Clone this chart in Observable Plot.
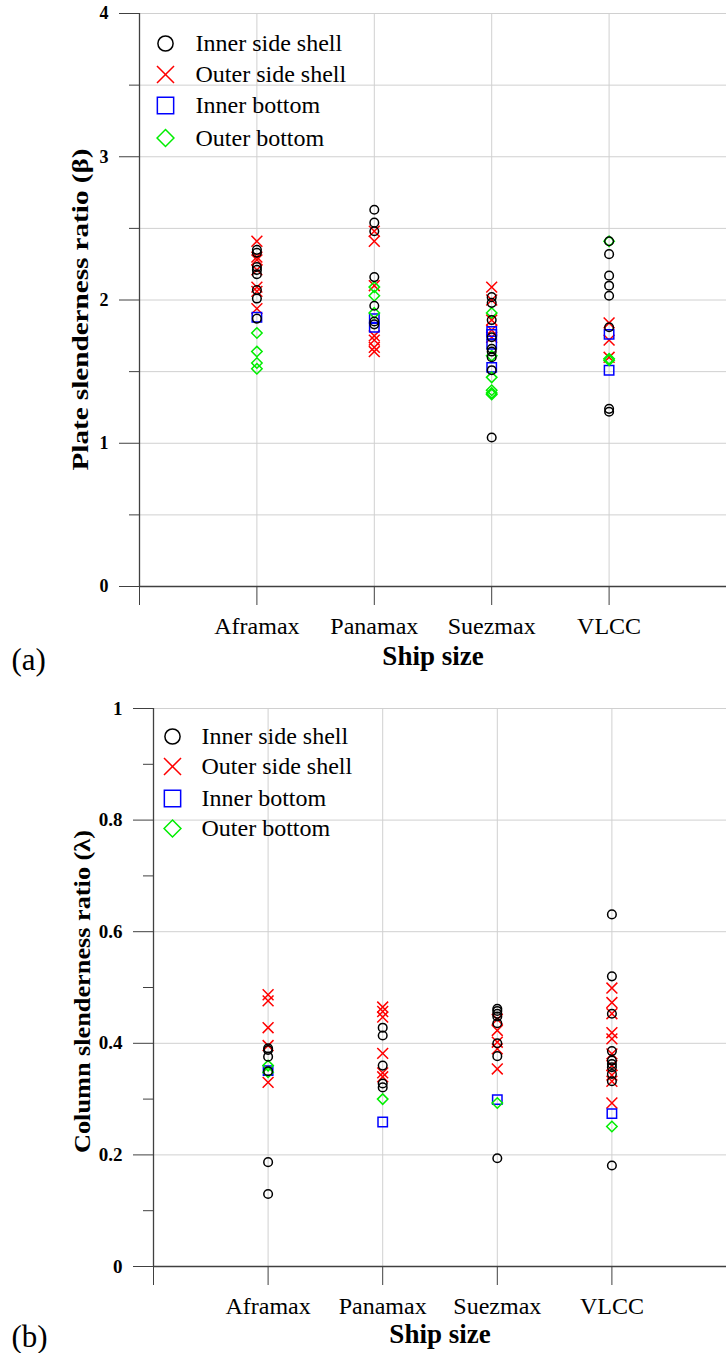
<!DOCTYPE html>
<html><head><meta charset="utf-8">
<script src="https://cdn.jsdelivr.net/npm/d3@7"></script>
<script src="https://cdn.jsdelivr.net/npm/@observablehq/plot@0.6"></script>
<style>
body{margin:0;background:#fff;}
#wrap{width:726px;}
#wrap svg{display:block;overflow:visible;font-family:"Liberation Serif","Times New Roman",serif !important;}
#wrap svg text{font-family:"Liberation Serif","Times New Roman",serif !important;}
</style></head><body><div id="wrap"></div>
<script>
const ships = ["Aframax", "Panamax", "Suezmax", "VLCC"];
const seriesNames = ["Inner side shell", "Outer side shell", "Inner bottom", "Outer bottom"];
const seriesColors = ["#000000", "#ff0000", "#0000ff", "#00ee00"];
const seriesSymbols = ["circle", "times", "square", "diamond2"];

// (a) Plate slenderness ratio (beta), one inner list per ship
const betaInnerSide = [
  [2.35, 2.33, 2.23, 2.21, 2.18, 2.07, 2.01, 1.87],
  [2.63, 2.54, 2.48, 2.16, 1.96, 1.85, 1.83],
  [2.02, 1.98, 1.86, 1.74, 1.66, 1.64, 1.60, 1.51, 1.04],
  [2.41, 2.32, 2.17, 2.10, 2.03, 1.81, 1.24, 1.22]
];
const betaOuterSide = [
  [2.41, 2.30, 2.28, 2.21, 2.09, 2.06, 1.94],
  [2.48, 2.41, 2.10, 1.75, 1.72, 1.67, 1.64],
  [2.09, 2.00, 1.86, 1.79, 1.74],
  [1.84, 1.72, 1.60]
];
const betaInnerBottom = [[1.88], [1.87, 1.81], [1.78, 1.76, 1.69, 1.53], [1.76, 1.51]];
const betaOuterBottom = [[1.77, 1.64, 1.56, 1.52], [2.09, 2.03, 1.91], [1.91, 1.61, 1.46, 1.37, 1.35, 1.34], [2.41, 1.59, 1.58]];

// (b) Column slenderness ratio (lambda)
const lambdaInnerSide = [
  [0.391, 0.388, 0.376, 0.350, 0.187, 0.130],
  [0.428, 0.414, 0.360, 0.328, 0.321],
  [0.462, 0.458, 0.453, 0.448, 0.436, 0.400, 0.377, 0.194],
  [0.631, 0.520, 0.453, 0.386, 0.369, 0.363, 0.357, 0.345, 0.332, 0.181]
];
const lambdaOuterSide = [
  [0.487, 0.476, 0.428, 0.396, 0.330],
  [0.465, 0.457, 0.447, 0.382, 0.347, 0.340],
  [0.443, 0.423, 0.402, 0.390, 0.354],
  [0.499, 0.473, 0.453, 0.419, 0.408, 0.381, 0.360, 0.343, 0.332, 0.293]
];
const lambdaInnerBottom = [[0.351], [0.259], [0.299], [0.274]];
const lambdaOuterBottom = [[0.360, 0.348], [0.300], [0.293], [0.251]];

const betaTicks = [0, 1, 2, 3, 4];
const betaMinorTicks = [0.5, 1.5, 2.5, 3.5];
const betaGrid = [0.5, 1, 1.5, 2, 2.5, 3, 3.5, 4];
const lambdaTicks = [0, 0.2, 0.4, 0.6, 0.8, 1];
const lambdaMinorTicks = [0.1, 0.3, 0.5, 0.7, 0.9];
const lambdaGrid = [0.2, 0.4, 0.6, 0.8, 1];

const FONT = "Liberation Serif, Times New Roman, serif";

function rows(seriesArrays) {
  const out = [];
  seriesArrays.forEach((arr, si) => arr.forEach((vals, ci) => vals.forEach(v => out.push({si, series: seriesNames[si], ship: ships[ci], x: ci + 1, v}))));
  return out;
}

function makeChart(o) {
  const data = rows(o.series);
  const dotR = [4.3, 5, 5.3, 4.7];
  const legR = [7.6, 7.8, 9.2, 7.6];
  const order = [1, 2, 3, 0];
  const axisColor = "#404040";
  const svg = Plot.plot({
    width: 726, height: o.height,
    marginTop: o.marginTop, marginRight: 0, marginBottom: o.marginBottom, marginLeft: o.marginLeft,
    style: {fontFamily: FONT, color: "#000", background: "#fff", overflow: "visible"},
    x: {type: "linear", domain: [0, 5], label: null},
    y: {domain: o.yDomain, label: null},
    marks: [
      Plot.gridY(o.grid, {stroke: "#d0d0d0", strokeOpacity: 1, strokeWidth: 1}),
      Plot.gridX([1, 2, 3, 4, 5], {stroke: "#d0d0d0", strokeOpacity: 1, strokeWidth: 1}),
      Plot.ruleX([0], {stroke: axisColor, strokeWidth: 1.3}),
      Plot.ruleY([0], {stroke: axisColor, strokeWidth: 1.3}),
      Plot.axisY(o.ticks, {tickSize: 20, tickPadding: 11, tickFormat: o.fmt, fontSize: o.tickFont, fontWeight: "bold", fontFamily: FONT, stroke: axisColor, fill: "#000", label: null}),
      Plot.axisY(o.minor, {tickSize: 10, tickFormat: () => "", stroke: axisColor, label: null}),
      Plot.axisX([0, 1, 2, 3, 4], {tickSize: 19, tickFormat: () => "", stroke: axisColor, label: null}),
      Plot.axisX([1, 2, 3, 4], {tickSize: 0, tickPadding: 30, tickFormat: i => ships[i - 1], fontSize: 24, fontFamily: FONT, fill: "#000", label: null}),
      ...order.map(s => Plot.dot(data.filter(d => d.si === s), {
        x: "x", y: "v", symbol: seriesSymbols[s], stroke: seriesColors[s], fill: "none", r: dotR[s], strokeWidth: 1.5
      })),
      ...seriesNames.flatMap((name, i) => [
        Plot.dot([name], {frameAnchor: "top-left", dx: o.legDx, dy: o.legDy[i], symbol: seriesSymbols[i], stroke: seriesColors[i], fill: "none", r: legR[i], strokeWidth: 1.5}),
        Plot.text([name], {frameAnchor: "top-left", dx: o.legTextDx, dy: o.legDy[i], text: d => d, textAnchor: "start", lineAnchor: "middle", fontSize: 24, fontFamily: FONT, fill: "#000"})
      ]),
      Plot.text([o.yTitle], {frameAnchor: "left", dx: o.titleDx, dy: o.titleDy, rotate: -90, text: d => d, fontSize: 23, fontWeight: "bold", fontFamily: FONT, lineAnchor: "middle", textAnchor: "middle", fill: "#000"}),
      Plot.text(["Ship size"], {frameAnchor: "bottom", dy: o.shipDy, text: d => d, fontSize: 27, fontWeight: "bold", fontFamily: FONT, lineAnchor: "middle", fill: "#000"}),
      Plot.text([o.panel], {frameAnchor: "bottom-left", dx: 11 - o.marginLeft, dy: o.panelDy, text: d => d, fontSize: 31, fontFamily: FONT, textAnchor: "start", lineAnchor: "middle", fill: "#000"})
    ]
  });
  d3.select(svg).selectAll("text").filter(function () { return this.textContent === o.yTitle; })
    .attr("textLength", o.titleLen).attr("lengthAdjust", "spacingAndGlyphs");
  return svg;
}

const wrap = document.getElementById("wrap");
wrap.appendChild(makeChart({
  series: [betaInnerSide, betaOuterSide, betaInnerBottom, betaOuterBottom],
  height: 690, marginTop: 13, marginBottom: 104, marginLeft: 139,
  yDomain: [0, 4], ticks: betaTicks, minor: betaMinorTicks, grid: betaGrid,
  fmt: d => String(d), tickFont: 18,
  legDx: 26, legTextDx: 56, legDy: [30, 61, 92, 124.5],
  yTitle: "Plate slenderness ratio (β)", titleDx: -59, titleDy: 9.5, titleLen: 322,
  shipDy: 70, panel: "(a)", panelDy: 74
}));
wrap.appendChild(makeChart({
  series: [lambdaInnerSide, lambdaOuterSide, lambdaInnerBottom, lambdaOuterBottom],
  height: 663, marginTop: 18, marginBottom: 87, marginLeft: 153,
  yDomain: [0, 1], ticks: lambdaTicks, minor: lambdaMinorTicks, grid: lambdaGrid,
  fmt: d => String(+d.toFixed(1)), tickFont: 19,
  legDx: 19, legTextDx: 48, legDy: [28, 58, 90, 120],
  yTitle: "Column slenderness ratio (λ)", titleDx: -71, titleDy: 4, titleLen: 323,
  shipDy: 68, panel: "(b)", panelDy: 71
}));
</script></body></html>
